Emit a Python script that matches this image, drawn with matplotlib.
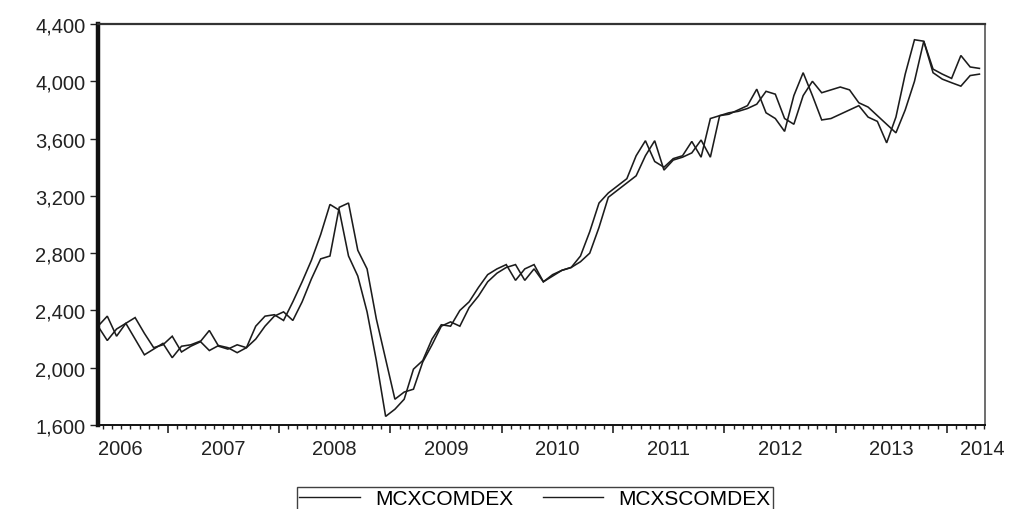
import matplotlib
matplotlib.use("Agg")
import matplotlib.pyplot as plt
from matplotlib.ticker import FuncFormatter, FixedLocator
from matplotlib.lines import Line2D

plt.rcParams['font.family'] = ['Liberation Sans', 'DejaVu Sans']

# Monthly observations, May 2006 .. Apr 2014
first_year, first_month = 2006, 5

mcxcomdex = [
    2290, 2190, 2270, 2310, 2200, 2090, 2130, 2170, 2070, 2150,
    2160, 2185, 2120, 2155, 2140, 2105, 2140, 2290, 2360, 2370,
    2330, 2460, 2600, 2750, 2930, 3140, 3100, 2780, 2640, 2390,
    2050, 1660, 1710, 1780, 1990, 2050, 2200, 2300, 2290, 2400,
    2460, 2560, 2650, 2690, 2720, 2610, 2690, 2720, 2600, 2650,
    2680, 2700, 2780, 2950, 3150, 3220, 3270, 3320, 3480, 3585,
    3440, 3400, 3460, 3480, 3580, 3470, 3740, 3760, 3770, 3800,
    3830, 3945, 3780, 3740, 3650, 3900, 4060, 3900, 3730, 3740,
    3770, 3800, 3830, 3750, 3720, 3570, 3750, 4050, 4290, 4280,
    4085, 4050, 4020, 4180, 4100, 4090,
]

mcxscomdex = [
    2290, 2360, 2220, 2310, 2350, 2240, 2140, 2160, 2220, 2110,
    2150, 2180, 2260, 2150, 2130, 2160, 2140, 2200, 2290, 2360,
    2390, 2330, 2460, 2620, 2760, 2780, 3120, 3150, 2820, 2690,
    2340, 2060, 1780, 1830, 1850, 2040, 2160, 2290, 2320, 2290,
    2420, 2500, 2600, 2660, 2700, 2720, 2610, 2690, 2600, 2640,
    2680, 2700, 2740, 2800, 2980, 3190, 3240, 3290, 3340, 3480,
    3585, 3380, 3450, 3470, 3500, 3590, 3470, 3760, 3780, 3790,
    3810, 3840, 3930, 3910, 3740, 3700, 3900, 4000, 3920, 3940,
    3960, 3940, 3850, 3820, 3760, 3700, 3640, 3800, 4000, 4280,
    4060, 4015, 3990, 3966, 4040, 4050,
]

series_names = ["MCXCOMDEX", "MCXSCOMDEX"]
year_labels = ["2006", "2007", "2008", "2009", "2010", "2011", "2012", "2013", "2014"]
y_ticks = [1600, 2000, 2400, 2800, 3200, 3600, 4000, 4400]

n = len(mcxcomdex)
idx = list(range(n))

fig = plt.figure(figsize=(10.10, 5.10), dpi=100)
ax = fig.add_axes([98 / 1010, 84 / 510, 887 / 1010, 401 / 510])

line_kw = dict(color="#1c1c1c", lw=1.15, solid_joinstyle="miter")
ax.plot(idx, mcxcomdex, **line_kw)
ax.plot(idx, mcxscomdex, **line_kw)

ax.set_xlim(0, n - 0.4)
ax.set_ylim(y_ticks[0], y_ticks[-1])

# y axis
ax.set_yticks(y_ticks)
ax.yaxis.set_major_formatter(FuncFormatter(lambda v, p: f"{int(v):,}"))
ax.tick_params(axis="y", direction="out", length=6, width=1.0,
               labelsize=14.5, colors="#222222", pad=3)

# x axis: long ticks at year boundaries, short ticks at each month
offset = 12 - first_month + 1  # months before the first January
year_bounds = [offset - 0.5 + 12 * k for k in range(8)]
ax.xaxis.set_major_locator(FixedLocator(year_bounds))
ax.xaxis.set_minor_locator(FixedLocator([i + 0.5 for i in range(n)]))
ax.tick_params(axis="x", which="major", direction="out", length=6, width=1.2,
               labelbottom=False, colors="#222222")
ax.tick_params(axis="x", which="minor", direction="out", length=3, width=1.0,
               colors="#222222")

label_pos = [2.4] + [b + 6 for b in year_bounds[:-1]] + [95.3]
for pos, lab in zip(label_pos, year_labels):
    ax.text(pos, -0.035, lab, transform=ax.get_xaxis_transform(),
            ha="center", va="top", fontsize=14.5, color="#222222")

# frame
ax.spines["left"].set_linewidth(3.2)
ax.spines["left"].set_color("#111111")
ax.spines["bottom"].set_linewidth(1.4)
ax.spines["bottom"].set_color("#111111")
ax.spines["top"].set_linewidth(1.6)
ax.spines["top"].set_color("#333333")
ax.spines["right"].set_linewidth(1.2)
ax.spines["right"].set_color("#555555")

handles = [Line2D([], [], color="#1c1c1c", lw=1.0) for _ in series_names]
leg = fig.legend(handles, series_names, loc="upper center",
                 bbox_to_anchor=(535 / 1010, 22 / 510), ncol=2,
                 fontsize=15, frameon=True, fancybox=False,
                 edgecolor="#111111", handlelength=2.9, handletextpad=0.75,
                 columnspacing=1.4, borderpad=0.1, borderaxespad=0,
                 handleheight=0.5)
leg.get_frame().set_linewidth(1.0)

fig.savefig("out.png", dpi=100)
